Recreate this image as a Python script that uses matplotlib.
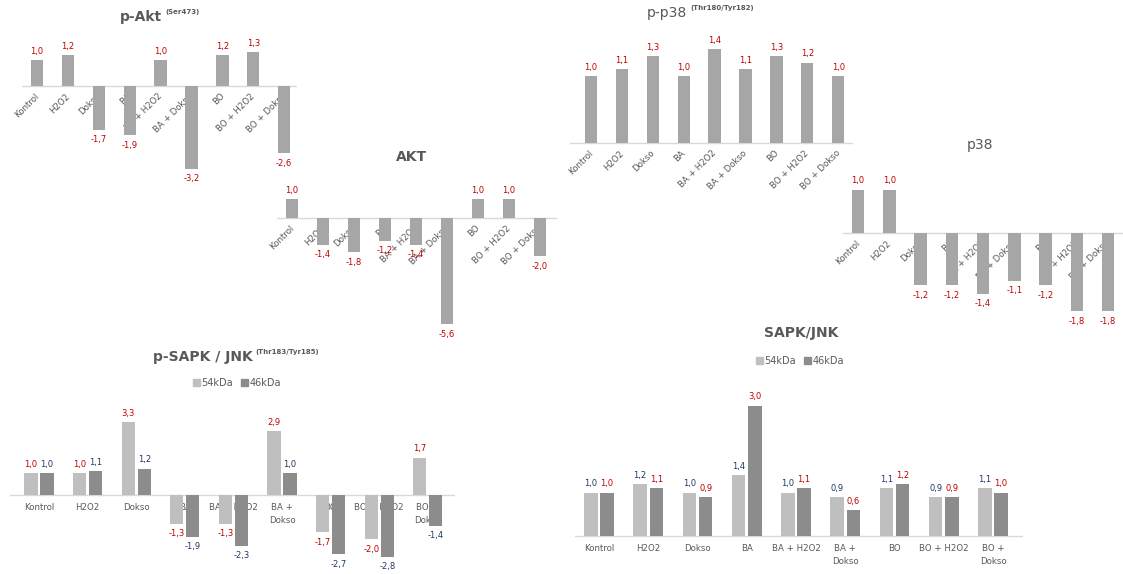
import matplotlib
matplotlib.use('Agg')
import matplotlib.pyplot as plt
from matplotlib.patches import Patch

# ---------------- data ----------------
cats = ['Kontrol', 'H2O2', 'Dokso', 'BA', 'BA + H2O2', 'BA + Dokso', 'BO', 'BO + H2O2', 'BO + Dokso']
cats_wrap = ['Kontrol', 'H2O2', 'Dokso', 'BA', 'BA + H2O2', 'BA +\nDokso', 'BO', 'BO + H2O2', 'BO +\nDokso']

p_akt = [1.0, 1.2, -1.7, -1.9, 1.0, -3.2, 1.2, 1.3, -2.6]
akt = [1.0, -1.4, -1.8, -1.2, -1.4, -5.6, 1.0, 1.0, -2.0]
p_p38 = [1.0, 1.1, 1.3, 1.0, 1.4, 1.1, 1.3, 1.2, 1.0]
p38 = [1.0, 1.0, -1.2, -1.2, -1.4, -1.1, -1.2, -1.8, -1.8]
p_sapk_54 = [1.0, 1.0, 3.3, -1.3, -1.3, 2.9, -1.7, -2.0, 1.7]
p_sapk_46 = [1.0, 1.1, 1.2, -1.9, -2.3, 1.0, -2.7, -2.8, -1.4]
sapk_54 = [1.0, 1.2, 1.0, 1.4, 1.0, 0.9, 1.1, 0.9, 1.1]
sapk_46 = [1.0, 1.1, 0.9, 3.0, 1.1, 0.6, 1.2, 0.9, 1.0]
series_names = ['54kDa', '46kDa']

# ---------------- style ----------------
W, H = 1123, 574
plt.rcParams['font.family'] = ['DejaVu Sans']
GREY = '#a6a6a6'
LIGHT = '#bfbfbf'
DARK = '#8c8c8c'
RED = '#c00000'
NAVY = '#1f3864'
TXT = '#595959'
AXC = '#d9d9d9'
LBL = 6
TICK = 6.2

fig = plt.figure(figsize=(W / 100, H / 100), dpi=100)


def fmt(v):
    return f'{v:.1f}'.replace('.', ',')


def make_axes(L, R, T, B, x0, dx, base, unit):
    ax = fig.add_axes([L / W, 1 - B / H, (R - L) / W, (B - T) / H])
    ax.set_xlim((L - x0) / dx, (R - x0) / dx)
    ax.set_ylim((base - B) / unit, (base - T) / unit)
    ax.axis('off')
    ax.axhline(0, color=AXC, lw=1, zorder=1)
    return ax


def value_label(ax, x, v, color):
    ax.annotate(fmt(v), xy=(x, v), xytext=(0, 3 if v >= 0 else -4),
                textcoords='offset points', ha='center',
                va='bottom' if v >= 0 else 'top', fontsize=LBL, color=color,
                annotation_clip=False, zorder=5)


def single_panel(vals, L, R, T, B, x0, dx, base, unit):
    ax = make_axes(L, R, T, B, x0, dx, base, unit)
    xs = list(range(len(vals)))
    ax.bar(xs, vals, width=0.4, color=GREY, zorder=3)
    for i, v in enumerate(vals):
        value_label(ax, i, v, RED)
    for i, c in enumerate(cats):
        ax.annotate(c, xy=(i, 0), xytext=(-2, -4), textcoords='offset points',
                    rotation=45, rotation_mode='anchor', ha='right', va='top',
                    fontsize=TICK, color=TXT, annotation_clip=False, zorder=2)
    return ax


def double_panel(v54, v46, c54, c46, L, R, T, B, x0, dx, base, unit):
    ax = make_axes(L, R, T, B, x0, dx, base, unit)
    xs = list(range(len(v54)))
    off = 0.165
    w = 0.27
    ax.bar([x - off for x in xs], v54, width=w, color=LIGHT, zorder=3)
    ax.bar([x + off for x in xs], v46, width=w, color=DARK, zorder=3)
    for i in xs:
        value_label(ax, i - off, v54[i], c54)
        value_label(ax, i + off, v46[i], c46)
    for i, c in enumerate(cats_wrap):
        ax.annotate(c, xy=(i, 0), xytext=(0, -6), textcoords='offset points',
                    ha='center', va='top', fontsize=TICK, color=TXT,
                    linespacing=1.5, annotation_clip=False, zorder=2)
    return ax


def title(x, y, main, sup=None, bold=True, ha='left', size=10):
    t = fig.text(x / W, 1 - y / H, main, ha=ha, va='center', fontsize=size,
                 fontweight='bold' if bold else 'normal', color=TXT)
    if sup:
        plt.annotate(sup, xy=(1, 0.62), xycoords=t, xytext=(2, 0),
                     textcoords='offset points', ha='left', va='bottom',
                     fontsize=5, fontweight='bold', color=TXT)
    return t


def legend(cx, y):
    handles = [Patch(color=LIGHT), Patch(color=DARK)]
    fig.legend(handles, series_names, loc='center', bbox_to_anchor=(cx / W, 1 - y / H),
               ncol=2, frameon=False, fontsize=7, handlelength=0.7, handleheight=0.7,
               handletextpad=0.2, columnspacing=0.8, labelcolor=TXT)


# ---------------- panels ----------------
single_panel(p_akt, 22, 297, 35, 175, 37, 30.9, 86, 25.8)
title(120, 17, 'p-Akt', '(Ser473)', bold=True)

single_panel(akt, 277, 557, 170, 340, 292, 31.0, 218, 19.0)
title(412, 157, 'AKT', bold=True, ha='center')

single_panel(p_p38, 570, 853, 30, 185, 591, 30.9, 143, 67.0)
title(647, 13, 'p-p38', '(Thr180/Tyr182)', bold=False)

single_panel(p38, 843, 1123, 165, 330, 858, 31.25, 233, 43.5)
title(980, 145, 'p38', bold=False, ha='center')

double_panel(p_sapk_54, p_sapk_46, RED, NAVY, 10, 455, 395, 570, 39, 48.6, 495, 22.0)
title(153, 357, 'p-SAPK / JNK', '(Thr183/Tyr185)', bold=True)
legend(237, 383)

double_panel(sapk_54, sapk_46, NAVY, RED, 575, 1023, 375, 574, 599, 49.25, 536, 43.5)
title(801, 333, 'SAPK/JNK', bold=True, ha='center')
legend(800, 361)

fig.savefig('out.png', dpi=100, facecolor='white')
